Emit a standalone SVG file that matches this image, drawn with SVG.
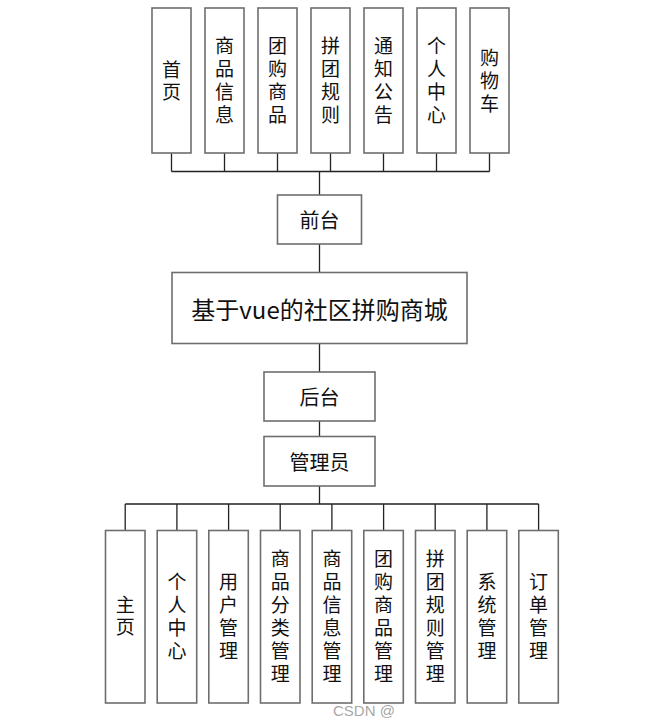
<svg xmlns="http://www.w3.org/2000/svg" width="659" height="728" viewBox="0 0 659 728">
<style>
.box{fill:#fff;stroke:#6e6e6e;stroke-width:1.6}
.t{font-family:"Noto Sans CJK SC","Noto Sans",sans-serif;font-size:19px;fill:#111;text-anchor:middle;dominant-baseline:central}
.v{writing-mode:vertical-rl;letter-spacing:4px}
.v2{writing-mode:vertical-rl;letter-spacing:3px}
.big{font-size:24px}
.mid{font-size:20px}
.wm{font-family:"Liberation Sans",Arial,sans-serif;font-size:15px;fill:#a8a8a8}
#connectors path{fill:none;stroke:#222;stroke-width:1.3}
</style>
<rect width="659" height="728" fill="#fff"/>
<g id="connectors">
<path d="M171.5 153V171.5M224.5 153V171.5M277.5 153V171.5M330.5 153V171.5M383.5 153V171.5M436.5 153V171.5M489.5 153V171.5M171.5 171.5H489.5M319.5 171.5V195"/>
<path d="M319.5 244V272.5M319.5 343.5V372M319.5 421V436.5M319.5 486V504"/>
<path d="M125.2 504H538.6M125.2 504V530.5M176.9 504V530.5M228.6 504V530.5M280.2 504V530.5M331.9 504V530.5M383.6 504V530.5M435.2 504V530.5M486.9 504V530.5M538.6 504V530.5"/>
</g>
<g id="top-nodes">
<g id="n-shouye"><rect class="box" x="152" y="8" width="39" height="145"/><text class="t v2" x="171.5" y="82">首页</text></g>
<g id="n-spxx"><rect class="box" x="205" y="8" width="39" height="145"/><text class="t v" x="224.5" y="82.5">商品信息</text></g>
<g id="n-tgsp"><rect class="box" x="258" y="8" width="39" height="145"/><text class="t v" x="277.5" y="82.5">团购商品</text></g>
<g id="n-ptgz"><rect class="box" x="311" y="8" width="39" height="145"/><text class="t v" x="330.5" y="82.5">拼团规则</text></g>
<g id="n-tzgg"><rect class="box" x="364" y="8" width="39" height="145"/><text class="t v" x="383.5" y="82.5">通知公告</text></g>
<g id="n-grzx"><rect class="box" x="417" y="8" width="39" height="145"/><text class="t v" x="436.5" y="82.5">个人中心</text></g>
<g id="n-gwc"><rect class="box" x="470" y="8" width="39" height="145"/><text class="t v" x="489.5" y="82.5">购物车</text></g>
</g>
<g id="n-qiantai"><rect class="box" x="277.5" y="195" width="84" height="49"/><text class="t mid" x="319.5" y="219.5">前台</text></g>
<g id="n-main"><rect class="box" x="172" y="272.5" width="295" height="71"/><text class="t big" x="319.5" y="308">基于vue的社区拼购商城</text></g>
<g id="n-houtai"><rect class="box" x="264" y="372" width="111" height="49"/><text class="t mid" x="319.5" y="396.5">后台</text></g>
<g id="n-admin"><rect class="box" x="264" y="436.5" width="111" height="49.5"/><text class="t mid" x="319.5" y="461">管理员</text></g>
<g id="bottom-nodes">
<g id="b-zhuye"><rect class="box" x="105.5" y="530.5" width="39.5" height="172.5"/><text class="t v2" x="125.2" y="617.5">主页</text></g>
<g id="b-grzx"><rect class="box" x="157.2" y="530.5" width="39.5" height="172.5"/><text class="t v" x="176.9" y="618.5">个人中心</text></g>
<g id="b-yhgl"><rect class="box" x="208.8" y="530.5" width="39.5" height="172.5"/><text class="t v" x="228.6" y="618.5">用户管理</text></g>
<g id="b-spfl"><rect class="box" x="260.5" y="530.5" width="39.5" height="172.5"/><text class="t v" x="280.2" y="618.5">商品分类管理</text></g>
<g id="b-spxx"><rect class="box" x="312.2" y="530.5" width="39.5" height="172.5"/><text class="t v" x="331.9" y="618.5">商品信息管理</text></g>
<g id="b-tgsp"><rect class="box" x="363.8" y="530.5" width="39.5" height="172.5"/><text class="t v" x="383.6" y="618.5">团购商品管理</text></g>
<g id="b-ptgz"><rect class="box" x="415.5" y="530.5" width="39.5" height="172.5"/><text class="t v" x="435.2" y="618.5">拼团规则管理</text></g>
<g id="b-xtgl"><rect class="box" x="467.2" y="530.5" width="39.5" height="172.5"/><text class="t v" x="486.9" y="618.5">系统管理</text></g>
<g id="b-ddgl"><rect class="box" x="518.8" y="530.5" width="39.5" height="172.5"/><text class="t v" x="538.6" y="618.5">订单管理</text></g>
</g>
<text class="wm" x="333" y="716">CSDN @</text>
</svg>
